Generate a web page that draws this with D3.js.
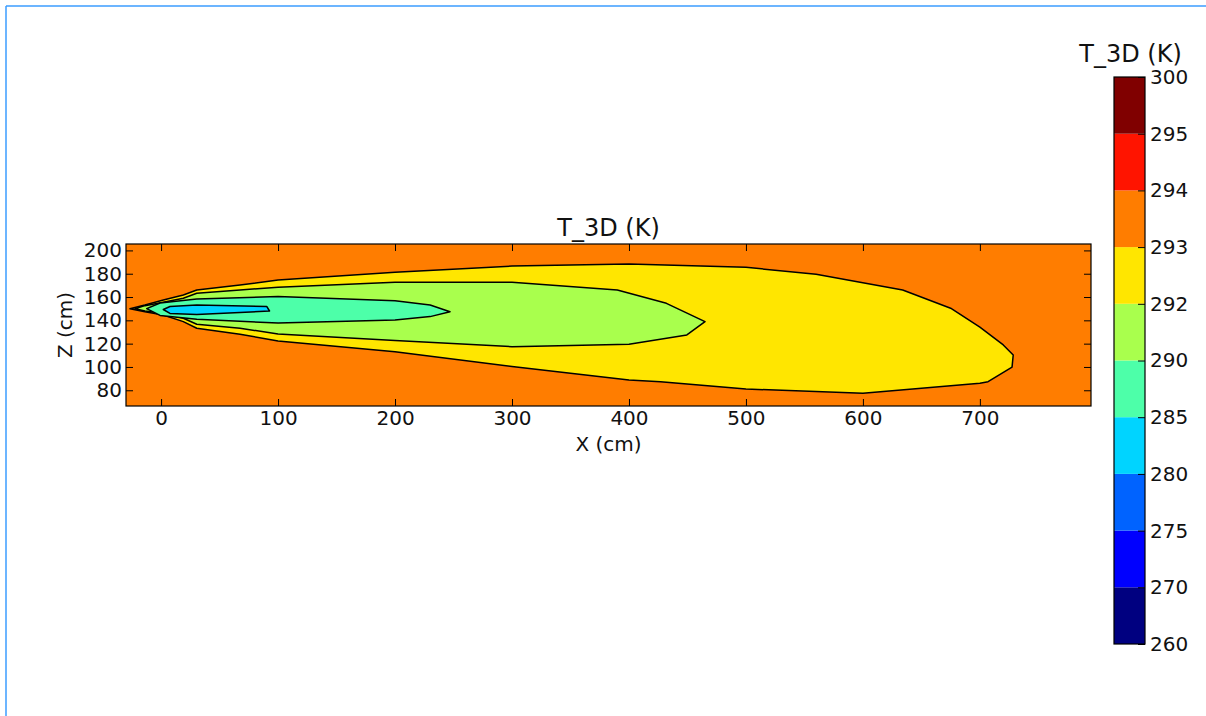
<!DOCTYPE html>
<html>
<head>
<meta charset="utf-8">
<script src="https://cdn.jsdelivr.net/npm/d3@7"></script>
<style>
  body { margin: 0; background: #fff; }
  text { font-family: "DejaVu Sans", sans-serif; fill: #111; }
</style>
</head>
<body>
<svg id="chart" width="1206" height="716"></svg>
<script>
/*
  filled contour plot of T_3D (K) in the X-Z plane, with a colorbar
*/

// tick values
var xTicks = [0, 100, 200, 300, 400, 500, 600, 700];
var zTicks = [80, 100, 120, 140, 160, 180, 200];

// contour levels and the jet colour of each band between two levels
var levels = [260, 270, 275, 280, 285, 290, 292, 293, 294, 295, 300];
var bandColors = ['#000080', '#0000ff', '#0063ff', '#00d4ff', '#4dffa9',
                  '#a9ff4d', '#ffe600', '#ff7d00', '#ff1400', '#800000'];

// background band (293-294) and the closed contours, as [x (cm), z (cm)]
var backgroundLevel = 293;

var contour292 = [[-26.6, 150.0], [-13.8, 153.2], [1.9, 157.5], [19, 161.8], [30.5, 166.0],
  [67.5, 170.3], [100, 174.6], [200, 181.2], [300, 186.6], [400, 188.3], [500, 185.5],
  [560, 179.5], [634, 166.0], [675, 150.4], [700, 134.1], [720, 118.9], [728.5, 110.3],
  [727.5, 99.8], [707, 87.4], [700, 86.0], [600, 77.5], [500, 81.1], [427, 87.4],
  [400, 88.9], [300, 100.3], [200, 113.1], [100, 122.3], [67.5, 128.1], [30.5, 133.2],
  [19, 138.9], [1.9, 144.6], [-13.8, 147.4]];

var contour290 = [[-22.3, 150.0], [-13.8, 152.6], [1.9, 155.5], [19, 158.9], [30.5, 163.2],
  [67.5, 166.1], [100, 168.4], [200, 172.7], [300, 172.7], [390, 166.1], [432, 154.6],
  [465, 138.9], [449.5, 127.5], [400, 119.5], [300, 117.4], [200, 122.6], [100, 128.3],
  [67.5, 133.2], [30.5, 136.6], [19, 141.8], [1.9, 146.1], [-13.8, 148.0]];

var contour285 = [[-12.3, 150.0], [-0.9, 154.9], [30.5, 158.3], [100, 160.5], [200, 156.9],
  [230, 153.2], [247, 147.4], [230, 143.2], [200, 140.3], [100, 137.7], [30.5, 140.9],
  [-0.9, 144.2]];

var contour280 = [[1.9, 149.3], [7.6, 151.9], [30.5, 153.2], [90.3, 151.9], [92.7, 148.0],
  [30.5, 145.0], [7.6, 145.9]];

var contours = [
  {level: 292, points: contour292},
  {level: 290, points: contour290},
  {level: 285, points: contour285},
  {level: 280, points: contour280}
];

// colour of the band that starts at a level
function bandColor(level) {
  return bandColors[levels.indexOf(level)];
}

var svg = d3.select('#chart');

// frame lines of the page at top and left
svg.append('line').attr('x1', 6).attr('y1', 6).attr('x2', 1206).attr('y2', 6)
  .attr('stroke', '#3b9cff').attr('stroke-width', 1.5);
svg.append('line').attr('x1', 6).attr('y1', 6).attr('x2', 6).attr('y2', 716)
  .attr('stroke', '#3b9cff').attr('stroke-width', 1.5);

var plot = {left: 126, top: 244, width: 965, height: 162};

var x = d3.scaleLinear().domain([-30, 795]).range([plot.left, plot.left + plot.width]);
var z = d3.scaleLinear().domain([66.5, 205.5]).range([plot.top + plot.height, plot.top]);

var defs = svg.append('defs');
defs.append('clipPath').attr('id', 'plotClip')
  .append('rect')
  .attr('x', plot.left).attr('y', plot.top)
  .attr('width', plot.width).attr('height', plot.height);

var area = svg.append('g').attr('clip-path', 'url(#plotClip)');

area.append('rect')
  .attr('x', plot.left).attr('y', plot.top)
  .attr('width', plot.width).attr('height', plot.height)
  .attr('fill', bandColor(backgroundLevel));

var line = d3.line()
  .x(function(d) { return x(d[0]); })
  .y(function(d) { return z(d[1]); })
  .curve(d3.curveLinearClosed);

area.selectAll('path.contour')
  .data(contours)
  .enter().append('path')
  .attr('class', 'contour')
  .attr('d', function(d) { return line(d.points); })
  .attr('fill', function(d) { return bandColor(d.level); })
  .attr('stroke', '#000')
  .attr('stroke-width', 1.5)
  .attr('stroke-linejoin', 'round');

// axes, ticks pointing inwards on all four sides
function styleAxis(g) {
  g.select('.domain').remove();
  g.selectAll('.tick line').attr('stroke', '#000');
  g.selectAll('.tick text').attr('font-size', 20).attr('fill', '#111')
    .style('font-family', '"DejaVu Sans", sans-serif');
}

svg.append('g')
  .attr('transform', 'translate(0,' + (plot.top + plot.height) + ')')
  .call(d3.axisBottom(x).tickValues(xTicks).tickSize(-7).tickPadding(5))
  .call(styleAxis);
svg.append('g')
  .attr('transform', 'translate(0,' + plot.top + ')')
  .call(d3.axisTop(x).tickValues(xTicks).tickSize(-7).tickFormat(''))
  .call(styleAxis);
svg.append('g')
  .attr('transform', 'translate(' + plot.left + ',0)')
  .call(d3.axisLeft(z).tickValues(zTicks).tickSize(-7).tickPadding(4))
  .call(styleAxis);
svg.append('g')
  .attr('transform', 'translate(' + (plot.left + plot.width) + ',0)')
  .call(d3.axisRight(z).tickValues(zTicks).tickSize(-7).tickFormat(''))
  .call(styleAxis);

svg.append('rect')
  .attr('x', plot.left).attr('y', plot.top)
  .attr('width', plot.width).attr('height', plot.height)
  .attr('fill', 'none').attr('stroke', '#000').attr('stroke-width', 1.2);

// titles and axis labels
svg.append('text')
  .attr('x', plot.left + plot.width / 2).attr('y', 236)
  .attr('text-anchor', 'middle').attr('font-size', 24)
  .text('T_3D (K)');
svg.append('text')
  .attr('x', plot.left + plot.width / 2).attr('y', 451)
  .attr('text-anchor', 'middle').attr('font-size', 20)
  .text('X (cm)');
svg.append('text')
  .attr('transform', 'translate(72,' + (plot.top + plot.height / 2) + ') rotate(-90)')
  .attr('text-anchor', 'middle').attr('font-size', 20)
  .text('Z (cm)');

// colorbar, equal height bands for each level interval
var cbar = {left: 1114, top: 77, width: 31, height: 567};
var cb = d3.scaleLinear().domain([0, levels.length - 1]).range([cbar.top + cbar.height, cbar.top]);

svg.append('g').selectAll('rect')
  .data(bandColors)
  .enter().append('rect')
  .attr('x', cbar.left)
  .attr('y', function(d, i) { return cb(i + 1); })
  .attr('width', cbar.width)
  .attr('height', function(d, i) { return cb(i) - cb(i + 1); })
  .attr('fill', function(d) { return d; });

svg.append('g')
  .attr('transform', 'translate(' + (cbar.left + cbar.width) + ',0)')
  .call(d3.axisRight(cb).tickValues(d3.range(levels.length)).tickSize(-7).tickPadding(5)
    .tickFormat(function(i) { return levels[i]; }))
  .call(styleAxis);

svg.append('rect')
  .attr('x', cbar.left).attr('y', cbar.top)
  .attr('width', cbar.width).attr('height', cbar.height)
  .attr('fill', 'none').attr('stroke', '#000').attr('stroke-width', 1.2);

svg.append('text')
  .attr('x', cbar.left + cbar.width / 2 + 1).attr('y', 62)
  .attr('text-anchor', 'middle').attr('font-size', 24)
  .text('T_3D (K)');
</script>
</body>
</html>
